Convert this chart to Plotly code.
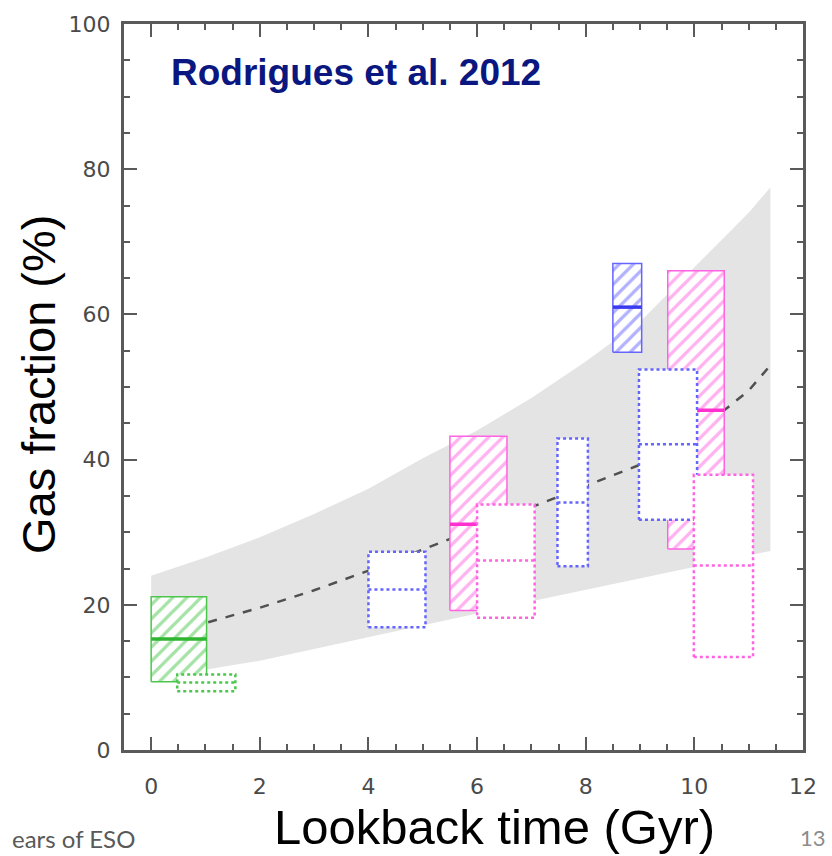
import plotly.graph_objects as go

# ---------------- data ----------------
band_x = [0, 1, 2, 3, 4, 5, 6, 7, 8, 9, 10, 11, 11.4]
band_upper = [24.0, 26.5, 29.3, 32.5, 36.0, 40.2, 44.0, 48.5, 53.5, 59.0, 66.5, 74.0, 77.5]
band_lower = [9.8, 11.0, 12.3, 13.9, 15.5, 17.1, 18.8, 20.5, 22.1, 23.7, 25.3, 26.8, 27.4]

trend_x = [1.05, 2, 3, 4, 5, 6, 7, 8, 9, 10, 11, 11.4]
trend_y = [17.6, 19.6, 22.0, 24.7, 27.6, 30.5, 33.4, 36.3, 39.3, 43.5, 49.5, 53.0]

box_x0 = [0.0, 0.48, 4.0, 5.5, 6.0, 7.48, 8.5, 9.51, 8.98, 9.99]
box_x1 = [1.02, 1.55, 5.05, 6.55, 7.06, 8.04, 9.03, 10.55, 10.05, 11.08]
box_lo = [9.4, 8.1, 16.9, 19.2, 18.2, 25.3, 54.8, 27.7, 31.7, 12.8]
box_hi = [21.1, 10.4, 27.3, 43.2, 33.8, 42.9, 67.0, 66.0, 52.4, 37.9]
box_med = [15.3, 9.3, 22.1, 31.1, 26.1, 34.1, 61.0, 46.8, 42.1, 25.4]
box_group = ["green", "green", "blue", "magenta", "magenta", "blue", "blue", "magenta", "blue", "magenta"]
box_kind = ["A", "B", "B", "A", "B", "B", "A", "A", "B", "B"]

x_ticks = [0, 2, 4, 6, 8, 10, 12]
y_ticks = [0, 20, 40, 60, 80, 100]

# ---------------- styles ----------------
colors = {
    "green": ("#4cc64c", "#2fb52f"),
    "blue": ("#6464ff", "#3a3af0"),
    "magenta": ("#ff63e2", "#ff30cf"),
}

fig = go.Figure()

# grey model band
fig.add_trace(go.Scatter(x=band_x, y=band_lower, mode="lines", line=dict(width=0),
                         hoverinfo="skip", showlegend=False))
fig.add_trace(go.Scatter(x=band_x, y=band_upper, mode="lines", line=dict(width=0),
                         fill="tonexty", fillcolor="#e4e4e4",
                         hoverinfo="skip", showlegend=False))

# dashed trend
fig.add_trace(go.Scatter(x=trend_x, y=trend_y, mode="lines",
                         line=dict(color="#505050", width=2.5, dash="dash"),
                         hoverinfo="skip", showlegend=False))

# boxes
for x0, x1, lo, hi, med, grp, kind in zip(box_x0, box_x1, box_lo, box_hi, box_med, box_group, box_kind):
    c, cm = colors[grp]
    xs = [x0, x1, x1, x0, x0]
    ys = [lo, lo, hi, hi, lo]
    if kind == "A":
        fig.add_trace(go.Scatter(
            x=xs, y=ys, mode="lines", fill="toself", fillcolor="white",
            fillpattern=dict(shape="/", fgcolor=c, bgcolor="white", size=10, solidity=0.32),
            line=dict(color=c, width=1.5), hoverinfo="skip", showlegend=False))
        fig.add_trace(go.Scatter(
            x=[x0, x1], y=[med, med], mode="lines",
            line=dict(color=cm, width=3.5), hoverinfo="skip", showlegend=False))
    else:
        fig.add_trace(go.Scatter(
            x=xs, y=ys, mode="lines", fill="toself", fillcolor="white",
            line=dict(color=c, width=2.5, dash="dot"), hoverinfo="skip", showlegend=False))
        fig.add_trace(go.Scatter(
            x=[x0, x1], y=[med, med], mode="lines",
            line=dict(color=c, width=2.5, dash="dot"), hoverinfo="skip", showlegend=False))

axis_common = dict(
    showgrid=False, zeroline=False, showline=True, linecolor="#5a5a5a", linewidth=3,
    mirror="allticks", ticks="inside", ticklen=13, tickwidth=2, tickcolor="#5a5a5a",
    tickfont=dict(family="DejaVu Sans", size=22, color="#4a4a4a"),
)

fig.update_xaxes(range=[-0.5, 12], tickmode="array", tickvals=x_ticks,
                 ticktext=[str(v) for v in x_ticks], ticklabelstandoff=15,
                 minor=dict(dtick=0.5, tick0=0, ticks="inside", ticklen=6, tickwidth=2,
                            tickcolor="#5a5a5a"),
                 **axis_common)
fig.update_yaxes(range=[0, 100], tickmode="array", tickvals=y_ticks,
                 ticktext=[str(v) for v in y_ticks], ticklabelstandoff=6,
                 minor=dict(dtick=5, tick0=0, ticks="inside", ticklen=6, tickwidth=2,
                            tickcolor="#5a5a5a"),
                 **axis_common)

annotations = [
    dict(text="<b>Rodrigues et al. 2012</b>", x=0.3417, y=0.933, xref="paper", yref="paper",
         xanchor="center", yanchor="middle", showarrow=False,
         font=dict(family="Liberation Sans, Arial", size=37, color="#0b1780")),
    dict(text="Lookback time (Gyr)", x=0.545, y=-0.1057, xref="paper", yref="paper",
         xanchor="center", yanchor="middle", showarrow=False,
         font=dict(family="Liberation Sans, Arial", size=49, color="black")),
    dict(text="Gas fraction (%)", x=-0.1267, y=0.504, xref="paper", yref="paper",
         xanchor="center", yanchor="middle", showarrow=False, textangle=-90,
         font=dict(family="Liberation Sans, Arial", size=47, color="black")),
    dict(text="ears of ESO", x=0.019, y=-0.122, xref="paper", yref="paper",
         xanchor="right", yanchor="middle", showarrow=False,
         font=dict(family="Lato, Open Sans", size=24, color="#595959")),
    dict(text="13", x=1.0147, y=-0.1206, xref="paper", yref="paper",
         xanchor="center", yanchor="middle", showarrow=False,
         font=dict(family="Lato, Open Sans", size=22, color="#8c8c8c")),
]

fig.update_layout(
    width=832, height=856,
    margin=dict(l=124, r=29, t=12, b=106, pad=0),
    paper_bgcolor="white", plot_bgcolor="white",
    showlegend=False,
    annotations=annotations,
)

fig.write_html("out.html")
